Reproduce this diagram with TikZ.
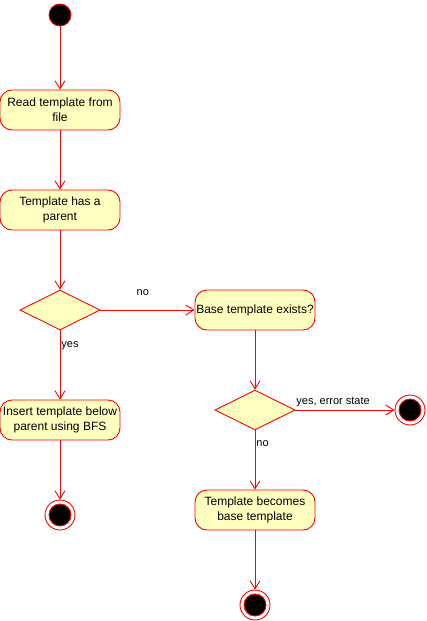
\documentclass[tikz,border=0pt]{standalone}
\usepackage{fontspec}
\setmainfont{Liberation Sans}
\usetikzlibrary{arrows.meta,shapes.geometric}
\definecolor{boxfill}{HTML}{FFFFC0}
\definecolor{edge}{HTML}{FF0000}
\tikzset{
  act/.style={draw=edge, fill=boxfill, rounded corners=12pt, minimum width=120pt, minimum height=40pt,
    align=center, inner sep=0pt, font=\fontsize{12}{15}\selectfont, line width=0.9pt},
  dec/.style={draw=edge, fill=boxfill, diamond, minimum width=80pt, minimum height=40pt, inner sep=0pt,
    aspect=2, line width=0.9pt},
  startst/.style={draw=edge, fill=black, circle, minimum size=22pt, inner sep=0pt, line width=0.9pt},
  endouter/.style={draw=edge, fill=white, circle, minimum size=30pt, inner sep=0pt, line width=0.9pt},
  endinner/.style={draw=edge, fill=black, circle, minimum size=22pt, inner sep=0pt, line width=0.9pt},
  flow/.style={draw=edge, line width=0.9pt, -{Straight Barb[length=8pt,width=10pt,line width=0.9pt]}},
  lbl/.style={font=\fontsize{11}{13}\selectfont, inner sep=0pt},
}
\begin{document}
\begin{tikzpicture}[x=1pt,y=-1pt]
\useasboundingbox (0,0) rectangle (426,621);
\node[startst] (start) at (60,15) {};
\node[act] (read) at (60,110) {Read template from\\file};
\node[act] (parent) at (60,210) {Template has a\\parent};
\node[dec] (d1) at (60,310) {};
\node[act] (base) at (255,310) {Base template exists?};
\node[dec] (d2) at (255,410) {};
\node[endouter] (endR) at (410,410) {};
\node[endinner] (endRi) at (410,410) {};
\node[act] (insert) at (60,420) {Insert template below\\parent using BFS};
\node[endouter] (endL) at (60,515) {};
\node[endinner] (endLi) at (60,515) {};
\node[act] (becomes) at (255,510) {Template becomes\\base template};
\node[endouter] (endB) at (255,605) {};
\node[endinner] (endBi) at (255,605) {};

\draw[flow] (start) -- (read);
\draw[flow] (read) -- (parent);
\draw[flow] (parent) -- (d1);
\draw[flow] (d1) -- node[lbl, pos=0.45, above=14pt] {no} (base);
\draw[flow] (d1) -- node[lbl, pos=0.2, anchor=west, xshift=1pt, yshift=-1.5pt] {yes} (insert);
\draw[flow] (insert) -- (endL);
\draw[flow] (base) -- (d2);
\draw[flow] (d2) -- node[lbl, pos=0.38, above=3pt] {yes, error state} (endR);
\draw[flow] (d2) -- node[lbl, pos=0.2, anchor=west, xshift=1pt, yshift=-1pt] {no} (becomes);
\draw[flow] (becomes) -- (endB);
\end{tikzpicture}
\end{document}
